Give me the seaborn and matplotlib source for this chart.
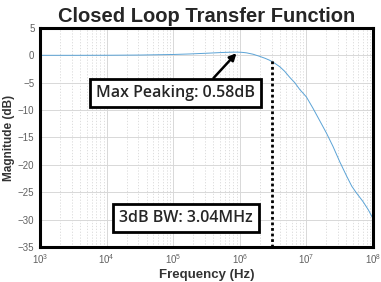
import numpy as np
import matplotlib
matplotlib.use("Agg")
import matplotlib.pyplot as plt
import seaborn as sns
from matplotlib.ticker import LogLocator, FixedLocator

# Data
freq_hz = [1e3, 3.2e3, 1e4, 3.2e4, 1e5, 1.8e5, 3.2e5, 5.6e5, 7.5e5, 8.9e5,
           1.06e6, 1.26e6, 1.58e6, 2.0e6, 2.4e6, 2.8e6, 3.3e6, 4.0e6, 4.7e6,
           5.6e6, 6.7e6, 7.9e6, 1e7, 1.26e7, 1.58e7, 2.0e7, 2.5e7, 3.16e7,
           4.0e7, 4.8e7, 5.62e7, 7.08e7, 8.5e7, 1e8]
mag_db = [0, 0, 0.01, 0.05, 0.15, 0.25, 0.38, 0.52, 0.57, 0.58,
          0.55, 0.45, 0.2, -0.2, -0.55, -0.9, -1.4, -2.1, -2.9,
          -4.0, -5.0, -6.2, -7.6, -9.7, -11.9, -14.2, -16.6, -19.4,
          -22.0, -23.9, -25.1, -26.7, -28.2, -29.8]
peak_label = "Max Peaking: 0.58dB"
peak_freq = 8.9e5
peak_db = 0.58
bw_label = "3dB BW: 3.04MHz"
bw_freq = 3.04e6
bw_top_db = -0.6
y_ticks = [5, 0, -5, -10, -15, -20, -25, -30, -35]
x_ticks = [1e3, 1e4, 1e5, 1e6, 1e7, 1e8]

sns.set_style("white")
plt.rcParams['font.family'] = ['Liberation Sans', 'DejaVu Sans']

fig = plt.figure(figsize=(3.81, 2.82), dpi=100)
ax = fig.add_axes([0.105, 0.124, 0.874, 0.777])

sns.lineplot(x=freq_hz, y=mag_db, ax=ax, color="#5ba3d6", linewidth=0.7)
ax.set_xscale("log")
ax.set_xlim(1e3, 1e8)
ax.set_ylim(-35, 5)
ax.yaxis.set_major_locator(FixedLocator(y_ticks))
ax.xaxis.set_major_locator(FixedLocator(x_ticks))
ax.xaxis.set_minor_locator(LogLocator(base=10, subs=np.arange(2, 10)))

ax.grid(True, which="major", color="#d8d8d8", linewidth=0.7, linestyle="-")
ax.grid(True, which="minor", color="#d8d8d8", linewidth=0.6, linestyle=(0, (1.5, 2)))
ax.set_axisbelow(True)

for s in ax.spines.values():
    s.set_visible(True)
    s.set_color("black")
    s.set_linewidth(2.2)

ax.tick_params(axis="both", which="both", length=0, labelsize=7, labelcolor="#606060", pad=4)
ax.set_xlabel("Frequency (Hz)", fontsize=9.5, fontweight="bold", color="#333333", labelpad=2)
ax.set_ylabel("Magnitude (dB)", fontsize=8.5, fontweight="bold", color="#333333", labelpad=2)
ax.set_title("Closed Loop Transfer Function", fontsize=14.5, fontweight="bold", pad=4)

# Dotted bandwidth line
ax.plot([bw_freq, bw_freq], [-35, bw_top_db], color="black", linestyle=(0, (1, 1)), linewidth=2)

box = dict(boxstyle="square,pad=0.38", facecolor="white", edgecolor="black", linewidth=2)
ax.annotate(peak_label, xy=(peak_freq, peak_db - 0.2), xytext=(10**5.03, -6.9),
            ha="center", va="center", fontsize=11.5, fontweight="semibold",
            family=["Open Sans", "DejaVu Sans"], bbox=box,
            arrowprops=dict(arrowstyle="-|>", color="black", lw=1.8,
                            mutation_scale=10, shrinkA=0, shrinkB=0,
                            relpos=(0.7, 1.0)))
ax.text(10**5.19, -29.7, bw_label, ha="center", va="center", fontsize=11.5,
        fontweight="semibold", family=["Open Sans", "DejaVu Sans"], bbox=box)

fig.savefig("out.png", dpi=100)
